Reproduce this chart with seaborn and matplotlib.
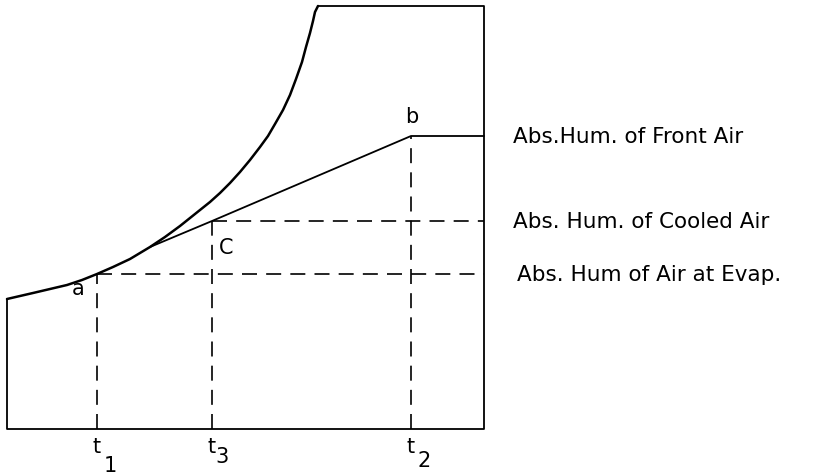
"""
Absolute humidity diagram: front air, cooled air, air at evaporator.
"""
import matplotlib
matplotlib.use("Agg")
import matplotlib.pyplot as plt
import seaborn as sns

sns.set_style("white")
plt.rcParams["font.family"] = ["DejaVu Sans"]
plt.rcParams["text.color"] = "black"

# ---------------- DATA (schematic units) ----------------
# saturation curve: temperature position -> absolute humidity
sat_temp = [7, 20, 33, 50, 67, 82, 97, 113, 130, 140, 150, 165, 180, 190, 200, 210,
            220, 230, 240, 250, 260, 268, 275, 283, 290, 296, 302, 306, 310, 313, 315, 318]
sat_hum = [130, 133, 136, 140, 144, 149, 155, 162, 170, 176, 182, 192, 203, 211, 219, 227,
           236, 246, 257, 269, 282, 293, 305, 319, 334, 350, 367, 382, 396, 408, 417, 423]

# process line: tangent point -> c -> b -> right edge
proc_temp = [150, 212, 411, 484]
proc_hum = [182, 208, 293, 293]

# enclosing frame (left wall, bottom, right wall, top)
frame_temp = [318, 484, 484, 7, 7]
frame_hum = [423, 423, 0, 0, 130]

# marked states
t_names = ["t1", "t3", "t2"]
t_pos = [97, 212, 411]
state_hum = [155, 208, 293]          # humidity at a, c, b
level_hum = [293, 208, 155]
level_start = [411, 212, 97]
level_labels = ["Abs.Hum. of Front Air", "Abs. Hum. of Cooled Air", "Abs. Hum of Air at Evap."]
right_edge = 484

# ---------------- PLOT ----------------
fig = plt.figure(figsize=(8.23, 4.77), dpi=100)
ax = fig.add_axes([0, 0, 1, 1])

solid = dict(color="black", sort=False, estimator=None, ax=ax, legend=False)
sns.lineplot(x=sat_temp, y=sat_hum, linewidth=1.8, **solid)
sns.lineplot(x=frame_temp, y=frame_hum, linewidth=1.3, **solid)
sns.lineplot(x=proc_temp, y=proc_hum, linewidth=1.3, **solid)

dash = (0, (9, 5.5))
for tp, h in zip(t_pos, state_hum):
    sns.lineplot(x=[tp, tp], y=[0, h], linewidth=1.2, linestyle=dash, **solid)
for x0, h in zip(level_start[1:], level_hum[1:]):
    sns.lineplot(x=[x0, right_edge], y=[h, h], linewidth=1.2, linestyle=dash, **solid)

# point labels
ax.text(78, 141, "a", fontsize=15, ha="center", va="center")
ax.text(226, 182, "C", fontsize=15, ha="center", va="center")
ax.text(412, 313, "b", fontsize=15, ha="center", va="center")

# temperature labels with subscripts
sub_dx = [13, 10, 13]
sub_dy = [-36, -27, -31]
for name, tp, dx, dy in zip(t_names, t_pos, sub_dx, sub_dy):
    ax.text(tp, -17, name[0], fontsize=15, ha="center", va="center")
    ax.text(tp + dx, dy, name[1], fontsize=15, ha="center", va="center")

# right-hand level labels
label_x = [513, 513, 517]
for lx, h, lab in zip(label_x, level_hum, level_labels):
    ax.text(lx, h, lab, fontsize=15.5, ha="left", va="center")

ax.set_xlim(0, 823)
ax.set_ylim(-47, 430)
ax.axis("off")

fig.savefig("out.png", dpi=100)
